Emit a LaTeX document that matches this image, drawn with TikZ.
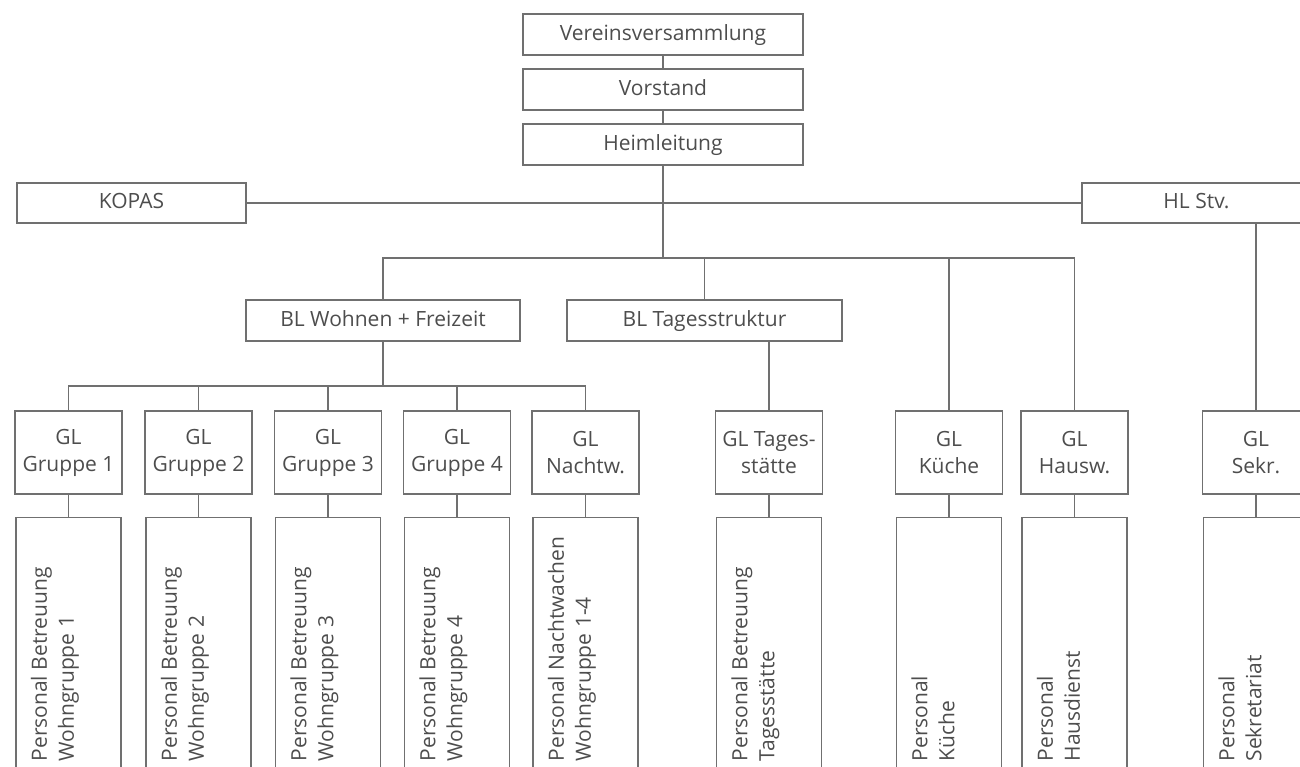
\documentclass[tikz,border=0pt]{standalone}
\usepackage{fontspec}
\setmainfont{Open Sans}
\definecolor{linegray}{HTML}{707070}
\definecolor{textgray}{HTML}{4D4D4D}
\begin{document}
\begin{tikzpicture}[
			x=1pt, y=-1pt,
			color=linegray, line width=1.3pt,
			every node/.style={text=textgray, font=\fontsize{21}{27}\selectfont},
			box/.style={draw, rectangle, inner sep=0pt, align=center},
			linebox/.style={box, text height=16pt, text depth=5pt},
			topbox/.style={linebox, minimum width=280pt, minimum height=41pt},
			sidebox/.style={linebox, minimum width=229pt, minimum height=40pt},
			blbox/.style={linebox, minimum height=41pt},
			glbox/.style={box, minimum width=107pt, minimum height=83pt},
			staffbox/.style={box, minimum width=105pt, minimum height=300pt, anchor=north},
			stafftext/.style={inner sep=0pt, align=left, rotate=90, anchor=north west}
		]
		\useasboundingbox (0,0) rectangle (1300,766);
		\clip (0,0) rectangle (1300,766);
		\node[topbox] (vv) at (663,34.5) {Vereinsversammlung};
		\node[topbox] (vs) at (663,89.5) {Vorstand};
		\node[topbox] (hl) at (663,144.5) {Heimleitung};
		\node[sidebox] (kopas) at (131.5,203) {KOPAS};
		\node[sidebox] (stv) at (1196.5,203) {HL Stv.};
		\node[blbox, minimum width=274pt] (blw) at (383,320.5) {BL Wohnen + Freizeit};
		\node[blbox, minimum width=275pt] (blt) at (704.5,320.5) {BL Tagesstruktur};
		\coordinate (bus) at (663,258);
		\coordinate (wbus) at (383,386);
		\node[glbox] (g1) at (68.5,452.5) {GL\\Gruppe 1};
		\node[glbox] (g2) at (198.5,452.5) {GL\\Gruppe 2};
		\node[glbox] (g3) at (328,452.5) {GL\\Gruppe 3};
		\node[glbox] (g4) at (457,452.5) {GL\\Gruppe 4};
		\node[glbox] (g5) at (585.5,452.5) {GL\\Nachtw.};
		\node[glbox] (gt) at (769,452.5) {GL Tages-\\stätte};
		\node[glbox] (gk) at (949,452.5) {GL\\Küche};
		\node[glbox] (gh) at (1074.5,452.5) {GL\\Hausw.};
		\node[glbox] (gs) at (1256,452.5) {GL\\Sekr.};
		\foreach \i in {1,2,3,4,5,t,k,h,s}{
				\node[staffbox] (p\i) at (g\i.south |- 0,517) {};
				\draw (g\i) -- (p\i);
			}
		\node[stafftext] (t1) at ([shift={(15,245)}]p1.north west) {Personal Betreuung\\Wohngruppe 1};
		\node[stafftext] (t2) at ([shift={(15,245)}]p2.north west) {Personal Betreuung\\Wohngruppe 2};
		\node[stafftext] (t3) at ([shift={(15,245)}]p3.north west) {Personal Betreuung\\Wohngruppe 3};
		\node[stafftext] (t4) at ([shift={(15,245)}]p4.north west) {Personal Betreuung\\Wohngruppe 4};
		\node[stafftext] (t5) at ([shift={(15,245)}]p5.north west) {Personal Nachtwachen\\Wohngruppe 1-4};
		\node[stafftext] (tt) at ([shift={(15,245)}]pt.north west) {Personal Betreuung\\Tagesstätte};
		\node[stafftext] (tk) at ([shift={(15,245)}]pk.north west) {Personal\\Küche};
		\node[stafftext] (th) at ([shift={(15,245)}]ph.north west) {Personal\\Hausdienst};
		\node[stafftext] (ts) at ([shift={(15,245)}]ps.north west) {Personal\\Sekretariat};
		\draw (vv) -- (vs);
		\draw (vs) -- (hl);
		\draw (kopas) -- (stv);
		\draw (hl) -- (bus);
		\draw (blw) |- (bus) -| (gh);
		\draw (bus -| blt) -- (blt);
		\draw (bus -| gk) -- (gk);
		\draw (stv.south -| gs) -- (gs);
		\draw (blw) -- (wbus);
		\draw (g1) |- (wbus) -| (g5);
		\foreach \i in {2,3,4}
			\draw (wbus -| g\i) -- (g\i);
		\draw (blt.south -| gt) -- (gt);
	\end{tikzpicture}
\end{document}
